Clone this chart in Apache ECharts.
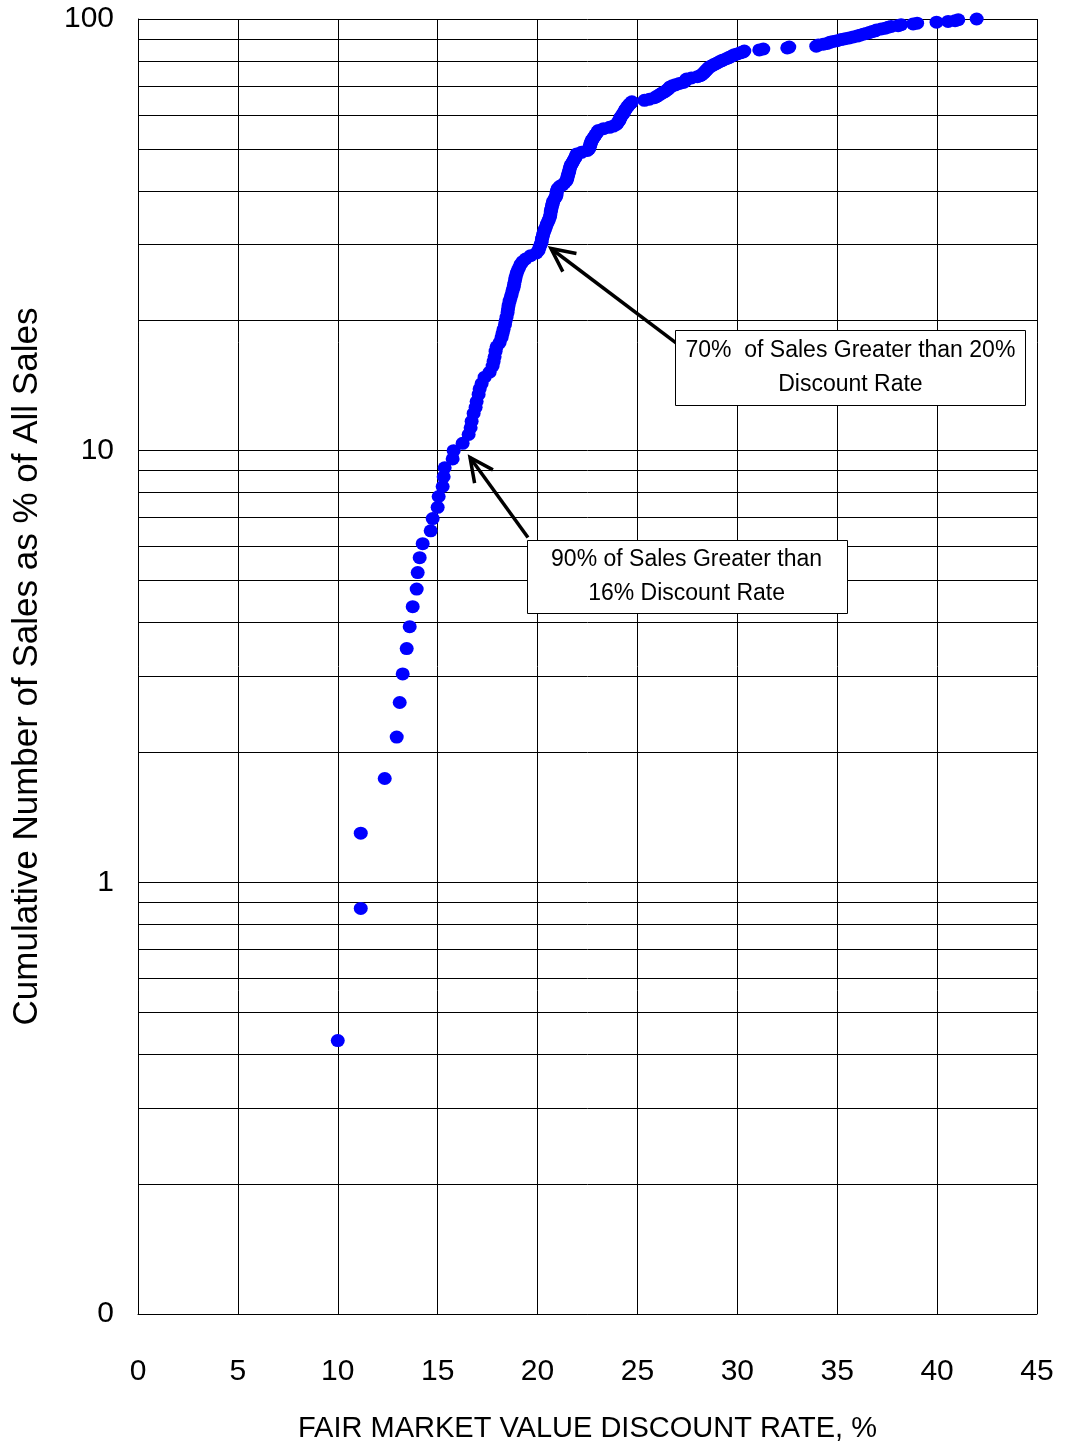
<!DOCTYPE html>
<html><head><meta charset="utf-8">
<script src="https://cdn.jsdelivr.net/npm/echarts@6.0.0/dist/echarts.min.js"></script>
<style>html,body{margin:0;padding:0;background:#fff}#c{width:1066px;height:1448px}</style>
</head><body><div id="c"></div>
<script>
// Fair market value discount rate (%) of each sale, sorted
const discountRate = [
10.0,11.15,11.15,12.35,12.95,13.1,13.25,13.45,13.6,13.75,13.95,14.0,14.1,14.25,14.65,14.75,15.0,15.05,15.25,15.3,
15.35,15.75,15.8,16.25,16.55,16.65,16.7,16.8,16.9,16.95,17.05,17.1,17.2,17.35,17.6,17.75,17.8,17.85,17.9,17.95,
18.1,18.2,18.25,18.3,18.37,18.4,18.45,18.5,18.52,18.55,18.6,18.65,18.7,18.75,18.8,18.83,18.87,18.9,18.95,19.0,
19.07,19.15,19.25,19.4,19.65,19.95,20.05,20.1,20.15,20.2,20.22,20.25,20.28,20.33,20.37,20.42,20.47,20.52,20.57,20.62,
20.64,20.66,20.68,20.7,20.73,20.76,20.78,20.85,20.92,20.95,20.95,20.97,21.0,21.1,21.25,21.35,21.45,21.48,21.5,21.53,
21.55,21.58,21.6,21.62,21.65,21.7,21.75,21.8,21.85,21.9,21.93,21.96,22.2,22.5,22.58,22.6,22.63,22.65,22.67,22.7,
22.75,22.8,22.85,22.9,22.95,23.0,23.05,23.3,23.6,23.8,23.95,24.0,24.05,24.1,24.12,24.15,24.2,24.25,24.3,24.33,
24.37,24.4,24.45,24.5,24.55,24.6,24.68,24.72,25.35,25.6,25.85,25.95,26.05,26.15,26.25,26.35,26.45,26.52,26.58,26.63,
26.75,26.9,27.1,27.3,27.38,27.42,27.46,27.7,28.0,28.15,28.22,28.3,28.35,28.4,28.45,28.5,28.55,28.6,28.7,28.8,
28.9,29.0,29.1,29.2,29.3,29.45,29.55,29.65,29.75,29.85,30.0,30.15,30.3,30.35,31.1,31.3,32.5,32.6,33.95,34.05,
34.3,34.5,34.63,34.8,35.0,35.2,35.4,35.6,35.8,36.0,36.14,36.3,36.45,36.6,36.75,36.9,36.97,37.2,37.4,37.55,
37.7,38.05,38.2,38.8,39.0,39.97,40.55,40.9,41.06,41.98
];
// Cumulative number of sales as % of all sales
const cumulativePct = [
0.43,0.87,1.30,1.74,2.17,2.61,3.04,3.48,3.91,4.35,4.78,5.22,5.65,6.09,6.52,6.96,7.39,7.83,8.26,8.70,
9.13,9.57,10.0,10.4,10.9,11.3,11.7,12.2,12.6,13.0,13.5,13.9,14.3,14.8,15.2,15.7,16.1,16.5,17.0,17.4,
17.8,18.3,18.7,19.1,19.6,20.0,20.4,20.9,21.3,21.7,22.2,22.6,23.0,23.5,23.9,24.3,24.8,25.2,25.7,26.1,
26.5,27.0,27.4,27.8,28.3,28.7,29.1,29.6,30.0,30.4,30.9,31.3,31.7,32.2,32.6,33.0,33.5,33.9,34.3,34.8,
35.2,35.7,36.1,36.5,37.0,37.4,37.8,38.3,38.7,39.1,39.6,40.0,40.4,40.9,41.3,41.7,42.2,42.6,43.0,43.5,
43.9,44.3,44.8,45.2,45.7,46.1,46.5,47.0,47.4,47.8,48.3,48.7,49.1,49.6,50.0,50.4,50.9,51.3,51.7,52.2,
52.6,53.0,53.5,53.9,54.3,54.8,55.2,55.7,56.1,56.5,57.0,57.4,57.8,58.3,58.7,59.1,59.6,60.0,60.4,60.9,
61.3,61.7,62.2,62.6,63.0,63.5,63.9,64.3,64.8,65.2,65.7,66.1,66.5,67.0,67.4,67.8,68.3,68.7,69.1,69.6,
70.0,70.4,70.9,71.3,71.7,72.2,72.6,73.0,73.5,73.9,74.3,74.8,75.2,75.7,76.1,76.5,77.0,77.4,77.8,78.3,
78.7,79.1,79.6,80.0,80.4,80.9,81.3,81.7,82.2,82.6,83.0,83.5,83.9,84.3,84.8,85.2,85.7,86.1,86.5,87.0,
87.4,87.8,88.3,88.7,89.1,89.6,90.0,90.4,90.9,91.3,91.7,92.2,92.6,93.0,93.5,93.9,94.3,94.8,95.2,95.7,
96.1,96.5,97.0,97.4,97.8,98.3,98.7,99.1,99.6,100.0
];
const minorGridValues = [0.2,0.3,0.4,0.5,0.6,0.7,0.8,0.9,2,3,4,5,6,7,8,9,20,30,40,50,60,70,80,90];
const annotations = [
  { lines: ['90% of Sales Greater than', '16% Discount Rate'], head: [16.62, 9.64], tail: [19.52, 6.29], boxCorner: [19.45, 6.22], boxW: 320, boxH: 73 },
  { lines: ['70%  of Sales Greater than 20%', 'Discount Rate'], head: [20.67, 29.4], tail: [26.98, 17.7], boxCorner: [26.9, 19.05], boxW: 350, boxH: 75 }
];

const FONT = "'Liberation Sans', Arial, sans-serif";
const chart = echarts.init(document.getElementById('c'), null, { renderer: 'canvas' });
const points = discountRate.map((x, i) => [x, cumulativePct[i]]);

chart.setOption({
  animation: false,
  backgroundColor: '#fff',
  textStyle: { fontFamily: FONT, color: '#000' },
  grid: { left: 138, right: 29, top: 19, bottom: 133, containLabel: false },
  xAxis: {
    type: 'value', min: 0, max: 45, interval: 5,
    name: 'FAIR MARKET VALUE DISCOUNT RATE, %', nameLocation: 'middle', nameGap: 100,
    nameTextStyle: { fontSize: 29, color: '#000', fontFamily: FONT },
    axisLine: { show: true, lineStyle: { color: '#000', width: 1 } },
    axisTick: { show: false },
    axisLabel: { fontSize: 30, color: '#000', margin: 43, fontFamily: FONT },
    splitLine: { show: true, lineStyle: { color: '#000', width: 1 } }
  },
  yAxis: {
    type: 'log', logBase: 10, min: 0.1, max: 100,
    name: 'Cumulative Number of Sales as % of All Sales', nameLocation: 'middle', nameGap: 93,
    nameTextStyle: { fontSize: 35, color: '#000', fontFamily: FONT },
    axisLine: { show: true, lineStyle: { color: '#000', width: 1 } },
    axisTick: { show: false },
    axisLabel: { fontSize: 30, color: '#000', margin: 24, fontFamily: FONT, padding: [6, 0, 0, 0],
      formatter: v => (v < 0.5 ? '0' : String(Math.round(v))) },
    splitLine: { show: true, lineStyle: { color: '#000', width: 1 } }
  },
  series: [{
    type: 'scatter',
    data: points,
    symbol: 'circle',
    symbolSize: [14, 13],
    itemStyle: { color: '#0000ff', opacity: 1 },
    z: 5,
    markLine: {
      silent: true, symbol: ['none', 'none'], animation: false,
      label: { show: false },
      lineStyle: { color: '#000', width: 1, type: 'solid', opacity: 1 },
      emphasis: { disabled: true },
      data: minorGridValues.map(v => ({ yAxis: v }))
    }
  }]
});

function buildGraphics() {
  const els = [];
  annotations.forEach(a => {
    const h = chart.convertToPixel({ gridIndex: 0 }, a.head);
    const t = chart.convertToPixel({ gridIndex: 0 }, a.tail);
    const c = chart.convertToPixel({ gridIndex: 0 }, a.boxCorner);
    const ang = Math.atan2(t[1] - h[1], t[0] - h[0]);
    const L = 26, spread = 0.45;
    const w1 = [h[0] + L * Math.cos(ang + spread), h[1] + L * Math.sin(ang + spread)];
    const w2 = [h[0] + L * Math.cos(ang - spread), h[1] + L * Math.sin(ang - spread)];
    els.push({ type: 'polyline', z: 20, shape: { points: [t, h] }, style: { stroke: '#000', lineWidth: 3.5, fill: null } });
    els.push({ type: 'polyline', z: 20, shape: { points: [w1, h, w2] }, style: { stroke: '#000', lineWidth: 3.5, fill: null, lineJoin: 'miter' } });
    els.push({ type: 'rect', z: 21, shape: { x: Math.round(c[0]) + 0.5, y: Math.round(c[1]) + 0.5, width: a.boxW, height: a.boxH },
      style: { fill: '#fff', stroke: '#000', lineWidth: 1 } });
    els.push({ type: 'text', z: 22, style: {
      x: c[0] + a.boxW / 2, y: c[1] + a.boxH / 2,
      text: a.lines.join('\n'), align: 'center', verticalAlign: 'middle',
      font: '23px ' + FONT, lineHeight: 34, fill: '#000' } });
  });
  chart.setOption({ graphic: els });
}
buildGraphics();
</script>
</body></html>
